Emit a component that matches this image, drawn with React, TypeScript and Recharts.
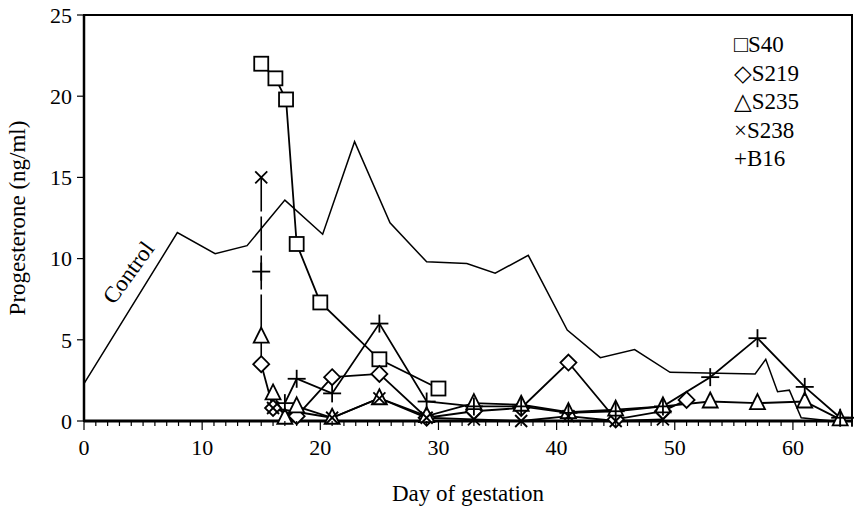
import { LineChart, Line, XAxis, YAxis, ReferenceArea } from 'recharts';

const serif = '"Liberation Serif", Tinos, "DejaVu Serif", "Times New Roman", serif';

// control curve (no markers)
const controlDays = [0, 7.9, 11.1, 13.8, 17, 20.2, 22.9, 25.9, 29, 32.4, 34.8, 37.6, 40.9, 43.7, 46.6, 49.6, 56.8, 57.7, 58.7, 59.7, 60.7, 63.3];
const controlValues = [2.3, 11.6, 10.3, 10.8, 13.6, 11.5, 17.2, 12.2, 9.8, 9.7, 9.1, 10.2, 5.6, 3.9, 4.4, 3.0, 2.9, 3.8, 1.8, 1.9, 0.2, 0.0];

const s40Days = [15, 16.2, 17.1, 18, 20, 25, 30];
const s40Values = [22.0, 21.1, 19.8, 10.9, 7.3, 3.8, 2.0];

const s219Days = [15, 16, 18, 21, 25, 29, 33, 37, 41, 45, 49, 51];
const s219Values = [3.5, 0.8, 0.3, 2.7, 2.9, 0.2, 0.6, 0.8, 3.6, 0.1, 0.6, 1.3];

const s235Days = [15, 16, 17, 18, 21, 25, 29, 33, 37, 41, 45, 49, 53, 57, 61, 64];
const s235Values = [5.2, 1.7, 0.2, 0.9, 0.2, 1.4, 0.3, 1.1, 1.0, 0.55, 0.7, 0.9, 1.2, 1.1, 1.2, 0.1];

const s238Days = [15, 16, 21, 25, 29, 33, 37, 41, 45, 49];
const s238Values = [15.0, 0.8, 0.2, 1.4, 0.2, 0.1, 0.0, 0.3, 0.0, 0.1];

const b16Days = [15, 17, 18, 21, 25, 29, 33, 37, 41, 45, 49, 53, 57, 61, 64, 65];
const b16Values = [9.2, 1.1, 2.6, 1.7, 6.0, 1.2, 0.9, 0.9, 0.5, 0.6, 0.9, 2.7, 5.1, 2.1, 0.2, 0.2];

const xTicks = Array.from({ length: 66 }, (_, i) => i);
const yTicks = [0, 5, 10, 15, 20, 25];

const zip = (days: number[], values: number[]) => days.map((d, i) => ({ day: d, value: values[i] }));

const control = zip(controlDays, controlValues);
const s40 = zip(s40Days, s40Values);
const s219 = zip(s219Days, s219Values);
const s235 = zip(s235Days, s235Values);
const s238 = zip(s238Days, s238Values);
const b16 = zip(b16Days, b16Values);

// the day-15 readings are joined by one vertical line in the original
const drop = [s238[0], b16[0], s235[0], s219[0]];

type Shape = 'square' | 'diamond' | 'triangle' | 'cross' | 'plus';

const Marker = ({ cx, cy, shape }: { cx: number; cy: number; shape: Shape }) => {
  if (cx == null || cy == null) return null;
  const st = { stroke: '#000', strokeWidth: 1.8, fill: '#fff' };
  switch (shape) {
    case 'square':
      return <rect x={cx - 7} y={cy - 7} width={14} height={14} {...st} />;
    case 'diamond':
      return <polygon points={`${cx},${cy - 8} ${cx + 8},${cy} ${cx},${cy + 8} ${cx - 8},${cy}`} {...st} />;
    case 'triangle':
      return <polygon points={`${cx},${cy - 9} ${cx + 7.5},${cy + 6} ${cx - 7.5},${cy + 6}`} {...st} />;
    case 'cross':
      return (
        <g stroke="#000" strokeWidth={1.8}>
          <line x1={cx - 6} y1={cy - 6} x2={cx + 6} y2={cy + 6} />
          <line x1={cx - 6} y1={cy + 6} x2={cx + 6} y2={cy - 6} />
        </g>
      );
    default:
      return (
        <g stroke="#000" strokeWidth={1.8}>
          <line x1={cx - 9} y1={cy} x2={cx + 9} y2={cy} />
          <line x1={cx} y1={cy - 9} x2={cx} y2={cy + 9} />
        </g>
      );
  }
};

const dotFor = (name: string, shape: Shape) => (p: any) => (
  <Marker key={`${name}-${p.index}`} cx={p.cx} cy={p.cy} shape={shape} />
);

const XTick = ({ x, y, payload }: any) => {
  const major = payload.value % 10 === 0;
  return (
    <g>
      <line x1={x} x2={x} y1={y} y2={y + (major ? 9 : 5)} stroke="#000" strokeWidth={1.2} />
      {major && (
        <text x={x} y={y + 34} textAnchor="middle" fontSize={22} fontFamily={serif} fill="#000">
          {payload.value}
        </text>
      )}
    </g>
  );
};

const series = [
  { name: 's40', data: s40, line: s40, shape: 'square' as Shape },
  { name: 's219', data: s219, line: s219, shape: 'diamond' as Shape },
  { name: 's235', data: s235, line: s235.slice(1), shape: 'triangle' as Shape },
  { name: 's238', data: s238, line: s238.slice(1), shape: 'cross' as Shape },
  { name: 'b16', data: b16, line: b16.slice(1), shape: 'plus' as Shape },
];

const legendItems = ['□S40', '◇S219', '△S235', '×S238', '+B16'];

export default function App() {
  return (
    <div style={{ position: 'absolute', left: 0, top: 0, width: 854, height: 508, background: '#fff', fontFamily: serif }}>
      <LineChart width={854} height={508} margin={{ top: 15, right: 2, bottom: 57, left: 0 }}>
        <XAxis
          dataKey="day"
          type="number"
          domain={[0, 65]}
          ticks={xTicks}
          interval={0}
          height={30}
          tickSize={0}
          tickMargin={0}
          tickLine={false}
          tick={<XTick />}
          axisLine={{ stroke: '#000', strokeWidth: 3 }}
          allowDuplicatedCategory={false}
        />
        <YAxis
          dataKey="value"
          type="number"
          domain={[0, 25]}
          ticks={yTicks}
          width={84}
          tickSize={7}
          tickMargin={5}
          tickLine={{ stroke: '#000', strokeWidth: 1.2 }}
          axisLine={{ stroke: '#000', strokeWidth: 2.5 }}
          tick={{ fill: '#000', fontSize: 22, fontFamily: serif }}
        />
        <ReferenceArea x1={0} x2={65} y1={0} y2={25} fill="none" stroke="#000" strokeWidth={2} ifOverflow="visible" />
        <Line data={control} dataKey="value" type="linear" stroke="#000" strokeWidth={1.5} dot={false} isAnimationActive={false} />
        <Line data={drop} dataKey="value" type="linear" stroke="#000" strokeWidth={1.6} strokeDasharray="34 5" dot={false} isAnimationActive={false} />
        {series.map((s) => (
          <Line key={`${s.name}-l`} data={s.line} dataKey="value" type="linear" stroke="#000" strokeWidth={1.8} dot={false} isAnimationActive={false} />
        ))}
        {series.map((s) => (
          <Line key={`${s.name}-m`} data={s.data} dataKey="value" type="linear" stroke="none" dot={dotFor(s.name, s.shape)} isAnimationActive={false} />
        ))}
      </LineChart>

      <div style={{ position: 'absolute', left: 18, top: 218, transform: 'translate(-50%, -50%) rotate(-90deg)', fontSize: 23, whiteSpace: 'nowrap' }}>
        Progesterone (ng/ml)
      </div>
      <div style={{ position: 'absolute', left: 468, top: 494, transform: 'translate(-50%, -50%)', fontSize: 23, whiteSpace: 'nowrap' }}>
        Day of gestation
      </div>
      <div style={{ position: 'absolute', left: 129, top: 273, transform: 'translate(-50%, -50%) rotate(-54deg)', fontSize: 23, whiteSpace: 'nowrap' }}>
        Control
      </div>
      <div style={{ position: 'absolute', left: 734, top: 31, fontSize: 23, lineHeight: '28.5px' }}>
        {legendItems.map((t) => (
          <div key={t}>{t}</div>
        ))}
      </div>
    </div>
  );
}
